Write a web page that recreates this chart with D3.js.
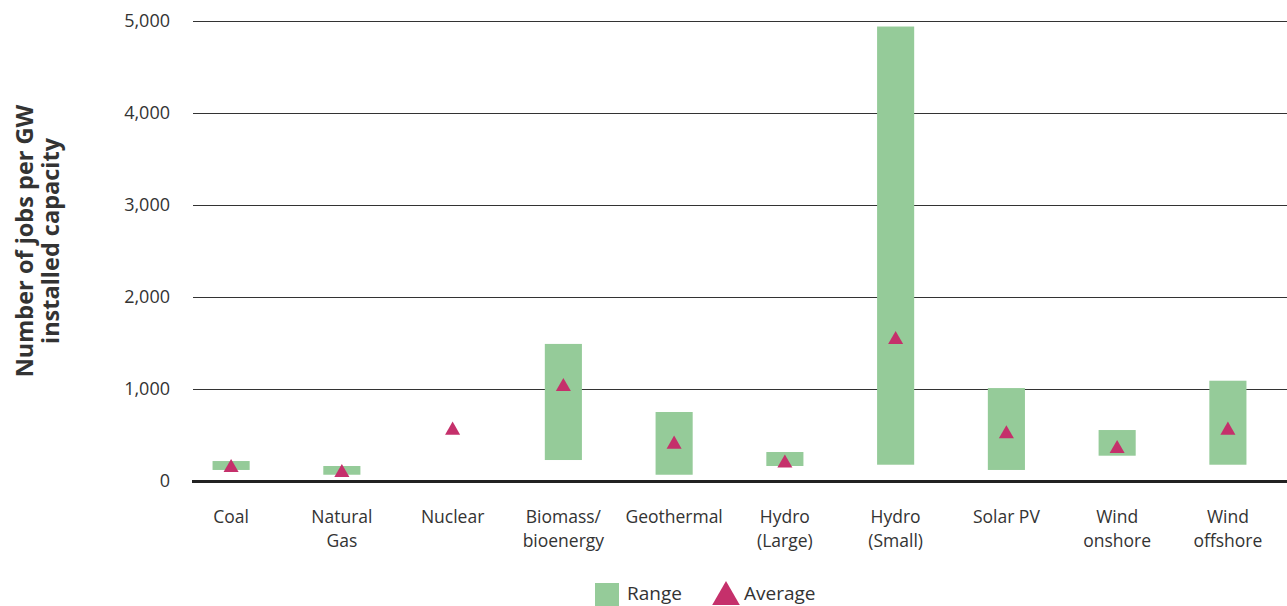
<!DOCTYPE html>
<html lang="en">
<head>
<meta charset="utf-8">
<title>Jobs per GW installed capacity</title>
<script src="https://d3js.org/d3.v7.min.js"></script>
<style>
  body { margin: 0; background: #fff; }
  svg text { font-family: "Open Sans", Lato, sans-serif; fill: #333; }
  .grid line { stroke: #333; stroke-width: 1; }
</style>
</head>
<body>
<svg id="chart" width="1287" height="606"></svg>
<script>
// data
var categories = ["Coal", "Natural Gas", "Nuclear", "Biomass/ bioenergy", "Geothermal",
                  "Hydro (Large)", "Hydro (Small)", "Solar PV", "Wind onshore", "Wind offshore"];
var labelLines = [["Coal"], ["Natural", "Gas"], ["Nuclear"], ["Biomass/", "bioenergy"], ["Geothermal"],
                  ["Hydro", "(Large)"], ["Hydro", "(Small)"], ["Solar PV"], ["Wind", "onshore"], ["Wind", "offshore"]];
var rangeLow  = [120, 68, null, 228, 68, 163, 177, 120, 275, 177];
var rangeHigh = [217, 163, null, 1490, 750, 315, 4940, 1010, 554, 1090];
var average   = [145, 90, 551, 1026, 399, 194, 1537, 511, 351, 551];
var yTicks = [0, 1000, 2000, 3000, 4000, 5000];

var green = "#95cb99", magenta = "#c5306b";

var svg = d3.select("#chart");

var x = d3.scaleBand().domain(categories).range([176, 1283]).paddingInner(0.665).paddingOuter(0.33);
var y = d3.scaleLinear().domain([0, 5000]).range([481, 21]);

// grid lines
svg.append("g").attr("class", "grid")
  .selectAll("line").data(yTicks.filter(function(d) { return d > 0; }))
  .enter().append("line")
    .attr("x1", 193).attr("x2", 1287)
    .attr("y1", function(d) { return y(d) + 0.5; })
    .attr("y2", function(d) { return y(d) + 0.5; });

// y tick labels
svg.append("g").selectAll("text").data(yTicks)
  .enter().append("text")
    .attr("x", 170)
    .attr("y", function(d) { return y(d); })
    .attr("dy", "0.36em")
    .attr("text-anchor", "end")
    .style("font-size", "18px")
    .text(function(d) { return d3.format(",")(d); });

// range bars
var rows = categories.map(function(c, i) {
  return {cat: c, lo: rangeLow[i], hi: rangeHigh[i], avg: average[i], lines: labelLines[i]};
});

svg.append("g").selectAll("rect").data(rows.filter(function(d) { return d.lo != null; }))
  .enter().append("rect")
    .attr("x", function(d) { return x(d.cat); })
    .attr("width", x.bandwidth())
    .attr("y", function(d) { return y(d.hi); })
    .attr("height", function(d) { return y(d.lo) - y(d.hi); })
    .attr("fill", green);

// zero axis line
svg.append("line")
  .attr("x1", 192).attr("x2", 1287)
  .attr("y1", y(0) + 0.5).attr("y2", y(0) + 0.5)
  .attr("stroke", "#222").attr("stroke-width", 3);

// average markers
var tri = d3.symbol().type(d3.symbolTriangle).size(98);
svg.append("g").selectAll("path").data(rows)
  .enter().append("path")
    .attr("d", tri)
    .attr("fill", magenta)
    .attr("transform", function(d) {
      return "translate(" + (x(d.cat) + x.bandwidth() / 2) + "," + y(d.avg) + ")";
    });

// category labels
var lab = svg.append("g").selectAll("text").data(rows)
  .enter().append("text")
    .attr("text-anchor", "middle")
    .style("font-size", "17.5px")
    .attr("x", function(d) { return x(d.cat) + x.bandwidth() / 2; })
    .attr("y", 523);
lab.selectAll("tspan").data(function(d) { return d.lines.map(function(l) { return {l: l, cx: x(d.cat) + x.bandwidth() / 2}; }); })
  .enter().append("tspan")
    .attr("x", function(d) { return d.cx; })
    .attr("dy", function(d, i) { return i === 0 ? 0 : 24; })
    .text(function(d) { return d.l; });

// y axis title
var yt = svg.append("text")
  .attr("transform", "translate(39,241) rotate(-90)")
  .attr("text-anchor", "middle")
  .style("font-size", "23.5px")
  .style("font-weight", "bold");
yt.append("tspan").attr("x", 0).attr("dy", "-0.25em").text("Number of jobs per GW");
yt.append("tspan").attr("x", 0).attr("dy", "1.1em").text("installed capacity");

// legend
var lg = svg.append("g");
lg.append("rect").attr("x", 595).attr("y", 583).attr("width", 24).attr("height", 23).attr("fill", green);
lg.append("text").attr("x", 627).attr("y", 600).style("font-size", "19px").text("Range");
lg.append("path")
  .attr("d", d3.symbol().type(d3.symbolTriangle).size(330))
  .attr("transform", "translate(726,597)")
  .attr("fill", magenta);
lg.append("text").attr("x", 744).attr("y", 600).style("font-size", "19px").text("Average");
</script>
</body>
</html>
